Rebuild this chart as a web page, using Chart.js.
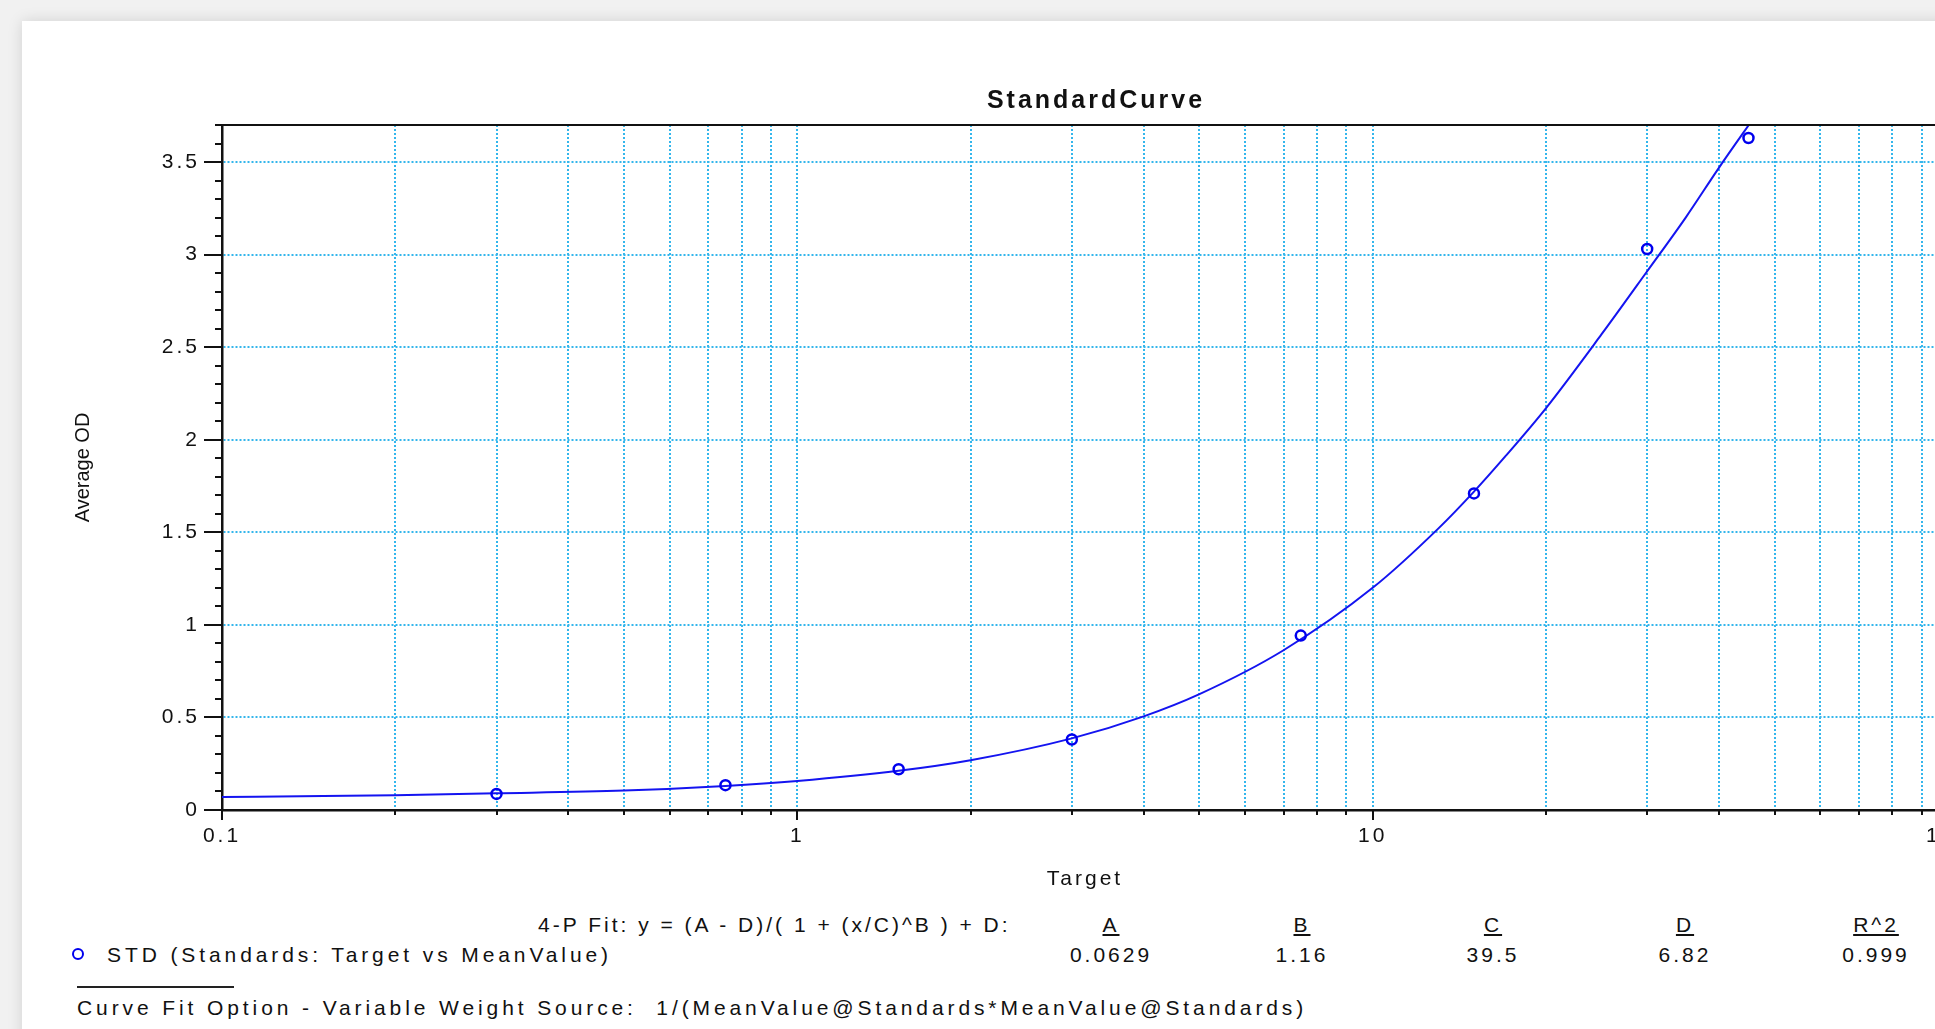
<!DOCTYPE html>
<html>
<head>
<meta charset="utf-8">
<title>StandardCurve</title>
<script src="https://cdn.jsdelivr.net/npm/chart.js@4.4.1/dist/chart.umd.min.js"></script>
<style>
  html, body { margin: 0; padding: 0; width: 1935px; height: 1029px; overflow: hidden; background: #f1f1f1; font-family: "Liberation Sans", Arial, sans-serif; color: #111; }
  .card { position: absolute; left: 22px; top: 21px; width: 2300px; height: 1100px; background: #fff; box-shadow: 0 0 14px rgba(0,0,0,0.13); }
  #curve { position: absolute; left: 0; top: 0; }
  .txt { position: absolute; font-size: 21px; line-height: 24px; letter-spacing: 3px; white-space: pre; }
  .wide { letter-spacing: 3.9px; }
  .c { transform: translateX(-50%); }
  .u { text-decoration: underline; }
  .dot { position: absolute; left: 72px; top: 948px; width: 8px; height: 8px; border: 2.5px solid #0000ee; border-radius: 50%; }
  .rule { position: absolute; left: 77px; top: 986px; width: 157px; height: 2px; background: #222; }
</style>
</head>
<body>
<div class="card"></div>
<canvas id="curve" width="2192" height="900"></canvas>

<div class="txt" style="left:538px; top:913px;">4-P Fit: y = (A - D)/( 1 + (x/C)^B ) + D:</div>
<div class="dot"></div>
<div class="txt wide" style="left:107px; top:943px;">STD (Standards: Target vs MeanValue)</div>
<div class="rule"></div>
<div class="txt wide" style="left:77px; top:996px;">Curve Fit Option - Variable Weight Source:  1/(MeanValue@Standards*MeanValue@Standards)</div>
<div id="params"></div>

<script>
// standards (Target vs MeanValue)
const stdTarget = [0.3, 0.75, 1.5, 3, 7.5, 15, 30, 45];
const stdOD = [0.087, 0.134, 0.22, 0.381, 0.942, 1.71, 3.03, 3.63];

// fitted curve
const fitX = [0.1, 0.15, 0.2, 0.3, 0.5, 0.75, 1, 1.5, 2, 3, 4, 5, 7, 10, 13, 15, 17, 20, 25, 30, 35, 40, 46];
const fitY = [0.07, 0.075, 0.08, 0.09, 0.105, 0.13, 0.157, 0.212, 0.269, 0.387, 0.506, 0.626, 0.863, 1.2, 1.52, 1.72, 1.91, 2.17, 2.57, 2.91, 3.2, 3.47, 3.74];

// fit parameters table
const paramNames = ['A', 'B', 'C', 'D', 'R^2'];
const paramValues = ['0.0629', '1.16', '39.5', '6.82', '0.999'];

// axis ticks
const xTicks = [0.1, 0.2, 0.3, 0.4, 0.5, 0.6, 0.7, 0.8, 0.9,
                1, 2, 3, 4, 5, 6, 7, 8, 9,
                10, 20, 30, 40, 50, 60, 70, 80, 90, 100];
const xLabels = [0.1, 1, 10, 100];
const yTicks = [0, 0.1, 0.2, 0.3, 0.4, 0.5, 0.6, 0.7, 0.8, 0.9,
                1, 1.1, 1.2, 1.3, 1.4, 1.5, 1.6, 1.7, 1.8, 1.9,
                2, 2.1, 2.2, 2.3, 2.4, 2.5, 2.6, 2.7, 2.8, 2.9,
                3, 3.1, 3.2, 3.3, 3.4, 3.5, 3.6, 3.7];
const yLabels = [0, 0.5, 1, 1.5, 2, 2.5, 3, 3.5];

const gridColor = '#34b6ec';

// table under the chart
const colX = [1111, 1302, 1493, 1685, 1876];
const params = document.getElementById('params');
paramNames.forEach((name, i) => {
    params.insertAdjacentHTML('beforeend',
        '<div class="txt c u" style="left:' + colX[i] + 'px; top:913px;">' + name + '</div>' +
        '<div class="txt c" style="left:' + colX[i] + 'px; top:943px;">' + paramValues[i] + '</div>');
});

// wide bitmap-like lettering, but keep the rotated y title plain
const spacing = {
    id: 'spacing',
    beforeDraw(chart) {
        chart.ctx.letterSpacing = '3px';
        const y = chart.scales.y;
        if (!y._plainTitle) {
            const base = y.drawTitle;
            y.drawTitle = function() {
                const prev = this.ctx.letterSpacing;
                this.ctx.letterSpacing = '0px';
                base.call(this);
                this.ctx.letterSpacing = prev;
            };
            y._plainTitle = true;
        }
    }
};

// tick marks (long at labelled values) and the frame
const tickMarks = {
    id: 'tickMarks',
    afterDraw(chart) {
        const { ctx, chartArea: a, scales: { x, y } } = chart;
        ctx.save();
        ctx.strokeStyle = '#111';
        ctx.lineWidth = 2;
        ctx.beginPath();
        yTicks.forEach(v => {
            const py = Math.round(y.getPixelForValue(v));
            const len = yLabels.includes(v) ? 18 : 7;
            ctx.moveTo(a.left - len, py);
            ctx.lineTo(a.left, py);
        });
        xTicks.forEach(v => {
            const px = Math.round(x.getPixelForValue(v));
            const len = xLabels.includes(v) ? 10 : 5;
            ctx.moveTo(px, a.bottom);
            ctx.lineTo(px, a.bottom + len);
        });
        ctx.moveTo(a.left, a.top);
        ctx.lineTo(a.right, a.top);
        ctx.lineTo(a.right, a.bottom);
        ctx.stroke();
        ctx.restore();
    }
};

const font = { family: '"Liberation Sans", Arial, sans-serif', size: 21 };

new Chart(document.getElementById('curve'), {
    type: 'scatter',
    data: {
        datasets: [{
            label: 'Fit',
            data: fitX.map((v, i) => ({ x: v, y: fitY[i] })),
            showLine: true,
            borderColor: '#1414f0',
            borderWidth: 2,
            pointRadius: 0,
            cubicInterpolationMode: 'monotone',
            order: 2
        }, {
            label: 'STD (Standards: Target vs MeanValue)',
            data: stdTarget.map((v, i) => ({ x: v, y: stdOD[i] })),
            showLine: false,
            pointStyle: 'circle',
            pointRadius: 5,
            borderColor: '#0000ee',
            backgroundColor: 'rgba(0,0,0,0)',
            borderWidth: 2.5,
            order: 1
        }]
    },
    options: {
        responsive: false,
        animation: false,
        layout: { padding: 0 },
        plugins: {
            legend: { display: false },
            tooltip: { enabled: false },
            title: {
                display: true,
                text: 'StandardCurve',
                color: '#111',
                font: { family: font.family, size: 25, weight: 'bold' },
                padding: { top: 86, bottom: 9 }
            }
        },
        scales: {
            x: {
                type: 'logarithmic',
                min: 0.1,
                max: 100,
                afterBuildTicks: scale => { scale.ticks = xTicks.map(v => ({ value: v, major: xLabels.includes(v) })); },
                afterFit: scale => { scale.height = 90; },
                ticks: {
                    autoSkip: false,
                    maxRotation: 0,
                    padding: 14,
                    color: '#111',
                    font: font,
                    callback: v => xLabels.includes(v) ? String(v) : ''
                },
                grid: { color: gridColor, lineWidth: 2, drawTicks: false },
                border: { display: true, color: '#111', width: 2.5, dash: [2, 2] },
                title: { display: true, text: 'Target', color: '#111', font: font, padding: { top: 0, bottom: 8 } }
            },
            y: {
                min: 0,
                max: 3.7,
                afterBuildTicks: scale => { scale.ticks = yTicks.map(v => ({ value: v })); },
                afterFit: scale => { scale.width = 222; },
                ticks: {
                    autoSkip: false,
                    padding: 22,
                    color: '#111',
                    font: font,
                    callback: v => yLabels.includes(v) ? String(v) : ''
                },
                grid: {
                    color: c => (c.tick && yLabels.includes(c.tick.value)) ? gridColor : 'rgba(0,0,0,0)',
                    lineWidth: 2,
                    drawTicks: false
                },
                border: { display: true, color: '#111', width: 2.5, dash: [2, 2] },
                title: { display: true, text: 'Average OD', color: '#111', font: { family: font.family, size: 20 }, padding: { top: 71, bottom: 0 } }
            },
            // empty right-hand margin so the title centres on the whole panel
            y2: {
                type: 'linear',
                position: 'right',
                afterFit: scale => { scale.width = 244; },
                ticks: { display: false },
                grid: { display: false },
                border: { display: false }
            }
        }
    },
    plugins: [spacing, tickMarks]
});
</script>
</body>
</html>
